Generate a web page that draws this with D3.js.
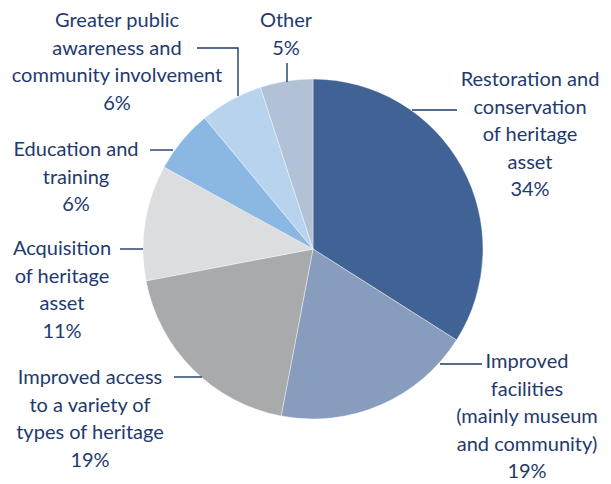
<!DOCTYPE html>
<html>
<head>
<meta charset="utf-8">
<script src="https://cdn.jsdelivr.net/npm/d3@7"></script>
<style>
  html, body { margin: 0; padding: 0; background: #fff; }
  svg { display: block; }
  text { font-family: Lato, "Open Sans", sans-serif; fill: #1e3a6e; }
</style>
</head>
<body>
<svg id="chart" width="611" height="484"></svg>
<script>
// Share of funding by purpose (percent), clockwise from 12 o'clock
const categories = [
  "Restoration and conservation of heritage asset",
  "Improved facilities (mainly museum and community)",
  "Improved access to a variety of types of heritage",
  "Acquisition of heritage asset",
  "Education and training",
  "Greater public awareness and community involvement",
  "Other"
];
const values = [34, 19, 19, 11, 6, 6, 5];
const labelLines = [
  ["Restoration and", "conservation", "of heritage", "asset"],
  ["Improved", "facilities", "(mainly museum", "and community)"],
  ["Improved access", "to a variety of", "types of heritage"],
  ["Acquisition", "of heritage", "asset"],
  ["Education and", "training"],
  ["Greater public", "awareness and", "community involvement"],
  ["Other"]
];
const colors = ["#416294", "#889dbe", "#a9aaac", "#dcdddf", "#8ab8e2", "#b8d3ee", "#b3c1d6"];

const svg = d3.select("#chart");
const cx = 313, cy = 249, r = 170;
const lineH = 27.5;

const pie = d3.pie().sort(null).value(d => d)(values);
const arc = d3.arc().innerRadius(0).outerRadius(r);

const g = svg.append("g").attr("transform", `translate(${cx},${cy})`);
g.selectAll("path")
  .data(pie)
  .join("path")
  .attr("d", arc)
  .attr("fill", (d, i) => colors[i])
  .attr("stroke", "#ffffff")
  .attr("stroke-width", 0.4);

// Label blocks: centre x, baseline of first line
const labelPos = [
  { x: 530, y: 86 },
  { x: 527, y: 368 },
  { x: 90, y: 384 },
  { x: 62, y: 255 },
  { x: 76, y: 156 },
  { x: 117, y: 27 },
  { x: 286, y: 27 }
];

// Leader lines (absolute page coordinates)
const leaders = [
  [[412, 110], [457, 110]],
  [[440, 364], [482, 364]],
  [[174, 377], [202, 377]],
  [[120, 249], [143, 249]],
  [[150, 150], [173, 150]],
  [[197, 48], [238, 48], [238, 96]],
  [[287, 63], [287, 82]]
];

const line = d3.line();
svg.selectAll("path.leader")
  .data(leaders)
  .join("path")
  .attr("class", "leader")
  .attr("d", d => line(d))
  .attr("fill", "none")
  .attr("stroke", "#1e3a6e")
  .attr("stroke-width", 1.4);

const fmt = d3.format("d");
labelLines.forEach((lines, i) => {
  const all = lines.concat([fmt(values[i]) + "%"]);
  const t = svg.append("text")
    .attr("text-anchor", "middle")
    .attr("font-size", 20);
  all.forEach((s, k) => {
    t.append("tspan")
      .attr("x", labelPos[i].x)
      .attr("y", labelPos[i].y + k * lineH)
      .text(s);
  });
});
</script>
</body>
</html>
